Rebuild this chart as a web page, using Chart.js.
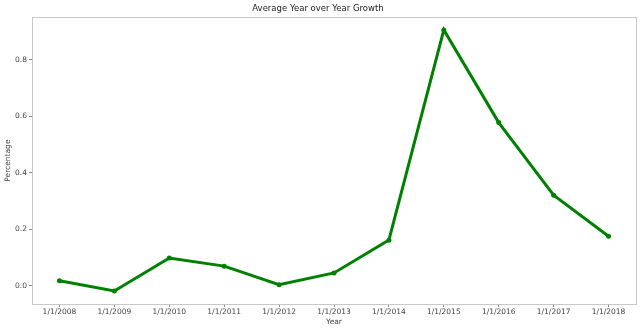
<!DOCTYPE html>
<html><head><meta charset="utf-8">
<script src="https://cdn.jsdelivr.net/npm/chart.js@4"></script>
<style>html,body{margin:0;padding:0;background:#fff}#wrap{width:642px;height:329px}</style>
</head><body><div id="wrap"><canvas id="c" width="642" height="329"></canvas></div>
<script>
const years = ["1/1/2008","1/1/2009","1/1/2010","1/1/2011","1/1/2012","1/1/2013","1/1/2014","1/1/2015","1/1/2016","1/1/2017","1/1/2018"];
const growth = [0.018,-0.018,0.099,0.070,0.004,0.046,0.162,0.906,0.578,0.321,0.176];
const yTicks = [0.0,0.2,0.4,0.6,0.8];

const frame = {
  id:'frame',
  afterDraw(chart){
    const a = chart.chartArea, ctx = chart.ctx;
    ctx.save();
    ctx.strokeStyle = '#c8c8c8';
    ctx.lineWidth = 1;
    ctx.strokeRect(Math.round(a.left)+0.5, Math.round(a.top)+0.5, Math.round(a.right-a.left), Math.round(a.bottom-a.top));
    ctx.restore();
  }
};
const txt = '#444';
new Chart(document.getElementById('c'), {
  type:'line',
  data:{labels:years, datasets:[{data:growth, borderColor:'#008000', backgroundColor:'#008000', borderWidth:3, pointRadius:2.5, pointBorderWidth:0, tension:0}]},
  options:{
    responsive:false, animation:false, devicePixelRatio:1,
    layout:{padding:{left:0,right:6,top:0,bottom:0}},
    plugins:{
      legend:{display:false}, tooltip:{enabled:false},
      title:{display:true, text:'Average Year over Year Growth', color:'#222', font:{family:'DejaVu Sans', size:8.5, weight:'normal'}, padding:{top:4,bottom:3}}
    },
    scales:{
      x:{type:'category', offset:true,
        grid:{display:true, drawOnChartArea:false, drawTicks:true, tickLength:3, color:'#888'},
        border:{display:false},
        ticks:{color:txt, font:{family:'DejaVu Sans', size:7.5}, padding:1, maxRotation:0, autoSkip:false},
        title:{display:true, text:'Year', color:txt, font:{family:'DejaVu Sans', size:7.5}, padding:{top:0,bottom:2}},
        afterFit(s){ s.height = 25; }
      },
      y:{min:-0.064, max:0.951,
        afterBuildTicks(s){ s.ticks = yTicks.map(v=>({value:v})); },
        grid:{display:true, drawOnChartArea:false, drawTicks:true, tickLength:3, color:'#888'},
        border:{display:false},
        ticks:{color:txt, font:{family:'DejaVu Sans', size:7.5}, padding:2, callback:v=>Number(v).toFixed(1)},
        title:{display:true, text:'Percentage', color:txt, font:{family:'DejaVu Sans', size:7.5}, padding:{top:4,bottom:0}},
        afterFit(s){ s.width = 32; }
      }
    }
  },
  plugins:[frame]
});
</script></body></html>
